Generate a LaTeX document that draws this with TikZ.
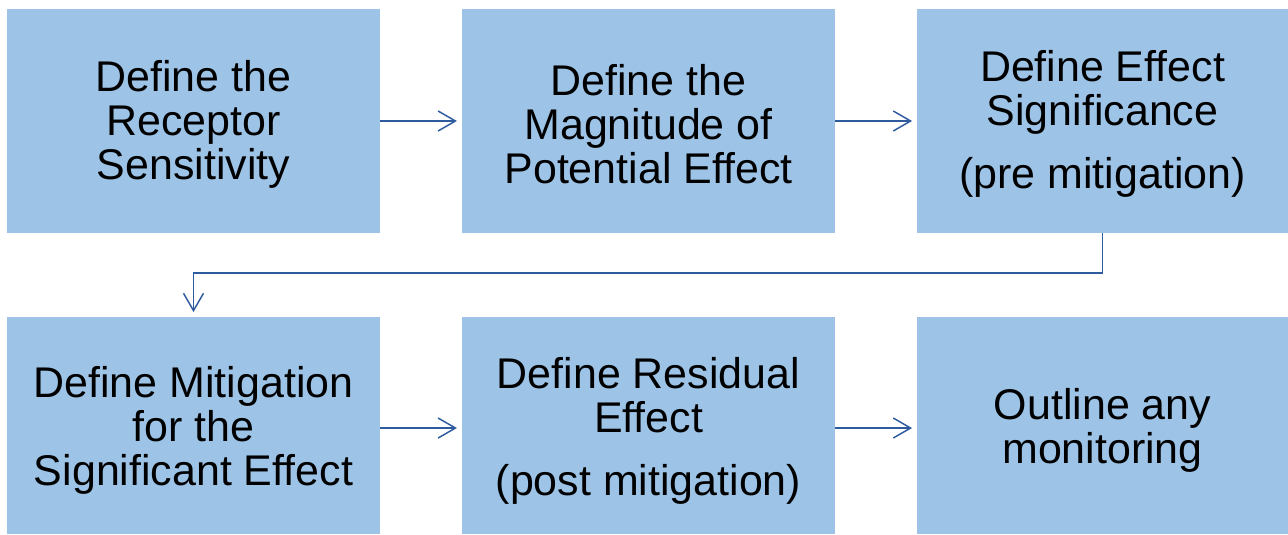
\documentclass[tikz,border=0pt]{standalone}
\usepackage{fontspec}
\setmainfont{Liberation Sans}
\usetikzlibrary{arrows.meta}
\definecolor{boxfill}{HTML}{9DC3E6}
\definecolor{flowline}{HTML}{2E5A9E}
\begin{document}
\begin{tikzpicture}[x=0.75pt,y=-0.75pt,
  stepbox/.style={fill=boxfill,draw=none,minimum width=280pt,inner sep=0pt},
  steptext/.style={align=center,font=\fontsize{32.2}{33}\selectfont,text=black,inner sep=0pt},
  flow/.style={draw=flowline,line width=1.1pt,
    -{Straight Barb[length=13pt,width=15pt,line width=1.1pt]},shorten >=3.5pt}]
\useasboundingbox (0,0) rectangle (1288,535);
% top row boxes
\node[stepbox,minimum height=168pt] (b1) at (193.5,121) {};
\node[stepbox,minimum height=168pt] (b2) at (648.5,121) {};
\node[stepbox,minimum height=168pt,minimum width=278.25pt] (b3) at (1102.5,121) {};
% bottom row boxes
\node[stepbox,minimum height=162.75pt] (b4) at (193.5,425.5) {};
\node[stepbox,minimum height=162.75pt] (b5) at (648.5,425.5) {};
\node[stepbox,minimum height=162.75pt,minimum width=278.25pt] (b6) at (1102.5,425.5) {};
% box texts
\node[steptext] (t1) at ([yshift=-2.3pt]b1.center) {Define the\\Receptor\\Sensitivity};
\node[steptext] (t2) at ([yshift=-2.3pt]b2.center) {Define the\\Magnitude of\\Potential Effect};
\node[steptext] (t3) at ([yshift=-2.3pt]b3.center) {Define Effect\\Significance\\[14pt](pre mitigation)};
\node[steptext] (t4) at ([yshift=-4pt]b4.center) {Define Mitigation\\for the\\Significant Effect};
\node[steptext] (t5) at ([yshift=-4pt]b5.center) {Define Residual\\Effect\\[14pt](post mitigation)};
\node[steptext] (t6) at ([yshift=-4pt]b6.center) {Outline any\\monitoring};
% connectors
\draw[flow] (b1.east) -- (b2.west);
\draw[flow] (b2.east) -- (b3.west);
\coordinate (turnR) at (1102.5,273);
\coordinate (turnL) at (193.5,273);
\draw[flow] (b3.south) -- (turnR) -- (turnL) -- (b4.north);
\draw[flow] ([yshift=-1.9pt]b4.east) -- ([yshift=-1.9pt]b5.west);
\draw[flow] ([yshift=-1.9pt]b5.east) -- ([yshift=-1.9pt]b6.west);
\end{tikzpicture}
\end{document}
